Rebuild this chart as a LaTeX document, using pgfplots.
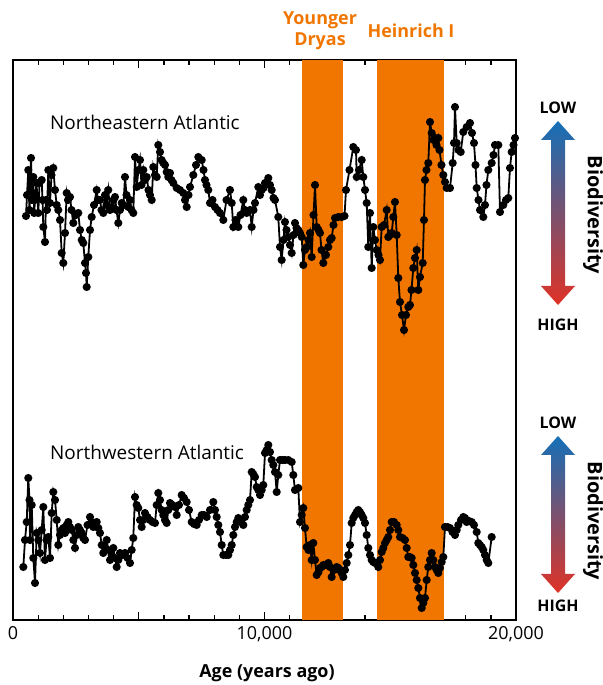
\documentclass[border=0pt]{standalone}
\usepackage{fontspec}
\setmainfont{Open Sans}
\usepackage{pgfplots}
\pgfplotsset{compat=1.18}
\definecolor{band}{RGB}{240,118,0}
\definecolor{arrblue}{RGB}{20,112,184}
\definecolor{arrred}{RGB}{224,50,38}
\begin{document}
\begin{tikzpicture}[x=1bp,y=1bp]
\useasboundingbox (0,0) rectangle (603,685);
\begin{axis}[
  at={(13bp,65bp)}, anchor=south west,
  width=503bp, height=560bp, scale only axis,
  xmin=0, xmax=20000, ymin=60, ymax=620, y dir=reverse,
  axis line style={line width=2bp},
  ytick=\empty, scaled x ticks=false,
  xtick={0,5000,10000,15000,20000},
  xticklabels={0,,{10,000},,{20,000}},
  minor xtick={1000,2000,3000,4000,6000,7000,8000,9000,11000,12000,13000,14000,16000,17000,18000,19000},
  tick align=inside, xtick pos=both, xticklabel pos=lower,
  major tick length=8bp, minor tick length=5bp,
  every tick/.style={black, line width=1.3bp},
  xticklabel style={font=\fontsize{18}{19}\selectfont, yshift=-3bp},
  clip=false,
]
\addplot[draw=none, fill=band] coordinates {(11490,60) (13130,60) (13130,620) (11490,620)} -- cycle;
\addplot[draw=none, fill=band] coordinates {(14460,60) (17150,60) (17150,620) (14460,620)} -- cycle;
\addplot[black, line width=1.8bp, mark=*, mark size=3.1bp, mark options={fill=black}] coordinates {
(517,216)(557,195)(608,170)(656,210)(716,158)(755,200)(807,177)(843,213)(875,200)(934,183)(1006,213)(1054,183)(1141,180)(1173,200)(1205,227)(1272,242)(1312,200)(1352,210)(1404,170)(1471,203)(1531,175)(1602,168)(1670,190)(1738,205)(1801,210)(1869,220)(1936,253)(2000,263)(2068,233)(2135,193)(2187,200)(2266,197)(2326,210)(2398,223)(2505,215)(2596,213)(2664,230)(2732,240)(2795,243)(2863,263)(2902,273)(2930,287)(2994,257)(3062,230)(3129,217)(3221,205)(3328,190)(3380,200)(3459,200)(3519,210)(3590,213)(3658,195)(3718,205)(3789,190)(3857,210)(3924,207)(3996,200)(4056,197)(4115,210)(4187,223)(4254,210)(4322,203)(4393,205)(4453,177)(4513,195)(4584,207)(4652,200)(4712,210)(4783,213)(4851,157)(4918,187)(4990,170)(5050,160)(5109,185)(5181,170)(5248,180)(5316,177)(5387,190)(5447,195)(5515,200)(5578,167)(5646,175)(5713,177)(5777,145)(5845,152)(5912,160)(5976,163)(6044,165)(6111,172)(6175,177)(6242,173)(6302,180)(6374,183)(6509,188)(6640,190)(6771,193)(6839,200)(6906,207)(6978,195)(7038,187)(7169,175)(7276,165)(7368,157)(7503,160)(7574,170)(7634,180)(7694,185)(7765,190)(7833,203)(7932,200)(8032,207)(8131,210)(8230,213)(8362,220)(8489,200)(8628,190)(8696,203)(8759,227)(8847,220)(8958,227)(9045,215)(9157,200)(9224,210)(9292,213)(9423,210)(9491,227)(9562,210)(9622,203)(9753,187)(9821,195)(9888,190)(9960,188)(10020,183)(10151,178)(10218,185)(10286,190)(10357,198)(10417,200)(10548,217)(10616,247)(10683,260)(10755,240)(10815,222)(10874,230)(10946,237)(11014,245)(11081,253)(11153,235)(11212,223)(11272,228)(11344,230)(11411,233)(11479,237)(11542,265)(11610,250)(11677,247)(11749,240)(11809,233)(11876,257)(11948,215)(12008,185)(12075,227)(12147,230)(12206,233)(12266,250)(12338,263)(12445,255)(12536,247)(12604,240)(12671,238)(12743,225)(12803,218)(12934,217)(13069,217)(13181,216)(13240,190)(13379,170)(13530,147)(13638,150)(13666,177)(13757,170)(13864,160)(13928,177)(13996,190)(14063,203)(14127,247)(14194,213)(14262,268)(14326,227)(14393,240)(14461,250)(14532,255)(14592,260)(14659,227)(14751,225)(14858,210)(14922,237)(14990,235)(15057,233)(15121,217)(15188,202)(15256,235)(15320,278)(15387,302)(15467,315)(15546,330)(15626,315)(15717,307)(15785,305)(15844,290)(15916,268)(15984,258)(16051,250)(16115,290)(16182,277)(16290,263)(16341,220)(16381,180)(16441,170)(16512,163)(16580,122)(16647,133)(16719,140)(16779,138)(16838,145)(16910,138)(16958,150)(17037,165)(17109,175)(17176,182)(17244,188)(17375,188)(17483,163)(17534,143)(17574,107)(17642,143)(17713,150)(17801,152)(17904,132)(18039,127)(18170,123)(18250,133)(18329,143)(18389,165)(18437,188)(18508,200)(18568,210)(18699,217)(18767,205)(18826,185)(18898,170)(19033,163)(19105,155)(19164,145)(19296,145)(19363,212)(19494,205)(19602,200)(19693,198)(19761,168)(19828,152)(19900,145)(19960,138)
};
\addplot[black, line width=1.8bp, mark=*, mark size=3.1bp, mark options={fill=black}] coordinates {
(410,567)(477,540)(545,522)(608,478)(656,500)(676,540)(744,505)(807,558)(875,583)(942,533)(1006,540)(1074,553)(1141,530)(1205,507)(1272,560)(1332,540)(1404,537)(1471,558)(1539,513)(1602,492)(1670,500)(1738,520)(1801,545)(1869,535)(1936,530)(2000,528)(2068,533)(2135,525)(2199,522)(2266,527)(2334,530)(2398,540)(2465,548)(2533,535)(2596,527)(2664,530)(2732,533)(2795,538)(2863,540)(2962,525)(3062,517)(3129,522)(3193,527)(3260,525)(3328,522)(3392,528)(3459,533)(3527,545)(3590,553)(3658,548)(3726,540)(3789,550)(3857,560)(3924,555)(3988,548)(4056,558)(4123,567)(4187,560)(4254,553)(4354,555)(4453,553)(4553,558)(4652,563)(4719,550)(4783,538)(4851,497)(4918,505)(4982,508)(5050,520)(5117,527)(5181,520)(5248,513)(5348,517)(5447,520)(5547,522)(5646,523)(5713,505)(5777,493)(5845,500)(5912,510)(5976,515)(6044,520)(6111,523)(6175,510)(6242,503)(6342,505)(6441,507)(6509,515)(6600,505)(6707,495)(6799,498)(6906,502)(6998,510)(7105,522)(7197,524)(7304,525)(7395,520)(7503,515)(7594,515)(7702,517)(7833,510)(7964,502)(8032,510)(8099,517)(8163,525)(8230,532)(8298,545)(8362,555)(8469,555)(8560,555)(8628,550)(8696,545)(8759,535)(8827,527)(8894,522)(8958,518)(9045,522)(9157,525)(9224,517)(9292,510)(9355,505)(9423,500)(9491,472)(9554,474)(9622,477)(9690,487)(9753,490)(9821,495)(9888,490)(9952,485)(10020,453)(10087,450)(10151,445)(10218,452)(10286,460)(10350,465)(10417,472)(10485,492)(10548,475)(10616,460)(10715,460)(10815,460)(10946,460)(11081,462)(11145,475)(11212,490)(11344,488)(11411,522)(11479,515)(11542,508)(11610,528)(11677,547)(11749,550)(11809,545)(11876,560)(11940,543)(12008,560)(12075,575)(12147,572)(12206,568)(12274,567)(12338,565)(12445,565)(12536,563)(12604,567)(12671,577)(12763,570)(12870,567)(12934,568)(13001,570)(13069,573)(13133,577)(13200,570)(13268,563)(13332,555)(13399,545)(13467,523)(13530,518)(13598,515)(13666,512)(13729,510)(13797,512)(13864,515)(13928,518)(13996,523)(14063,535)(14127,548)(14194,555)(14262,560)(14326,562)(14393,563)(14524,567)(14592,560)(14659,552)(14724,548)(14791,543)(14858,540)(14922,537)(14990,530)(15057,522)(15149,522)(15256,525)(15320,530)(15387,537)(15487,538)(15586,540)(15653,548)(15717,557)(15785,557)(15852,558)(15916,565)(15984,573)(16051,580)(16115,588)(16182,598)(16250,608)(16314,603)(16381,598)(16449,580)(16512,567)(16580,560)(16647,553)(16711,560)(16779,567)(16846,570)(16910,573)(16977,568)(17045,562)(17109,557)(17176,527)(17276,527)(17375,528)(17474,532)(17574,535)(17642,530)(17705,525)(17812,520)(17904,517)(17972,518)(18039,522)(18131,521)(18238,522)(18329,525)(18437,532)(18500,543)(18568,545)(18636,547)(18699,550)(18767,555)(18834,560)(18898,563)(19033,537)
};
\end{axis}
% band titles
\node[font=\bfseries\fontsize{18}{21}\selectfont, text=band, align=center] at (320,654) {Younger\\Dryas};
\node[font=\bfseries\fontsize{18}{21}\selectfont, text=band] at (411,654) {Heinrich I};
% series labels
\node[font=\fontsize{19}{20}\selectfont, anchor=west, inner sep=0] at (50,563) {Northeastern Atlantic};
\node[font=\fontsize{19}{20}\selectfont, anchor=west, inner sep=0] at (50,233) {Northwestern Atlantic};
% x label
\node[font=\bfseries\fontsize{18}{19}\selectfont] at (267,12) {Age (years ago)};
% upper arrow (tips at rows 121 and 305)
\shade[top color=arrblue, bottom color=arrred] (558,564) -- (575,545) -- (565,545) -- (565,399) -- (575,399) -- (558,380) -- (541,399) -- (551,399) -- (551,545) -- (541,545) -- cycle;
\node[font=\bfseries\fontsize{16}{17}\selectfont] at (558,577) {LOW};
\node[font=\bfseries\fontsize{16}{17}\selectfont] at (558,360) {HIGH};
\node[font=\bfseries\fontsize{20}{21}\selectfont, rotate=-90] at (593,470) {Biodiversity};
% lower arrow (tips at rows 436 and 593)
\shade[top color=arrblue, bottom color=arrred] (558,249) -- (575,230) -- (565,230) -- (565,111) -- (575,111) -- (558,92) -- (541,111) -- (551,111) -- (551,230) -- (541,230) -- cycle;
\node[font=\bfseries\fontsize{16}{17}\selectfont] at (558,262) {LOW};
\node[font=\bfseries\fontsize{16}{17}\selectfont] at (558,79) {HIGH};
\node[font=\bfseries\fontsize{20}{21}\selectfont, rotate=-90] at (593,164) {Biodiversity};
\end{tikzpicture}
\end{document}
